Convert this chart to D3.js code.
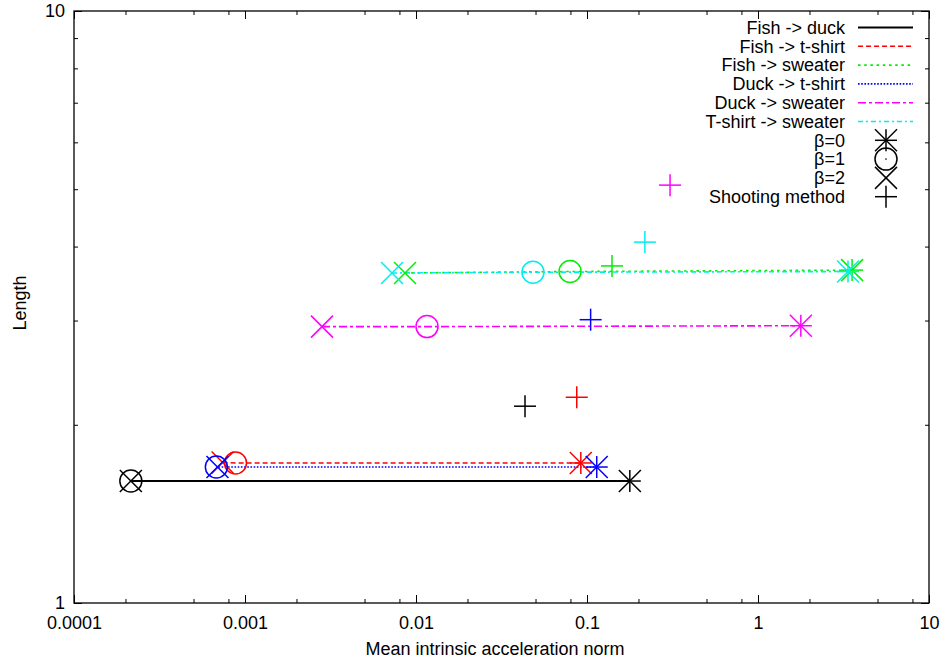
<!DOCTYPE html>
<html>
<head>
<meta charset="utf-8">
<script src="https://cdn.jsdelivr.net/npm/d3@7"></script>
<style>
  html, body { margin: 0; padding: 0; background: #fff; }
  svg text { font-family: "Liberation Sans", Arial, Helvetica, sans-serif; }
</style>
</head>
<body>
<svg id="chart" width="942" height="664"></svg>
<script>
// ---------- data ----------
const seriesNames = ["Fish -> duck", "Fish -> t-shirt", "Fish -> sweater",
                     "Duck -> t-shirt", "Duck -> sweater", "T-shirt -> sweater"];
// beta = 0 results (mean acceleration norm, length)
const beta0X = [0.178, 0.092, 3.55, 0.114, 1.78, 3.36];
const beta0Y = [1.607, 1.724, 3.65, 1.697, 2.94, 3.63];
// beta = 1
const beta1X = [0.000215, 0.00088, 0.0796, 0.00068, 0.0116, 0.0483];
const beta1Y = [1.607, 1.724, 3.63, 1.697, 2.93, 3.62];
// beta = 2
const beta2X = [0.000215, 0.00074, 0.00863, 0.00069, 0.00282, 0.00724];
const beta2Y = [1.607, 1.727, 3.61, 1.697, 2.93, 3.61];
// shooting method
const shootX = [0.0434, 0.0871, 0.140, 0.105, 0.306, 0.218];
const shootY = [2.15, 2.226, 3.71, 3.01, 5.08, 4.07];

const markerNames = ["\u03b2=0", "\u03b2=1", "\u03b2=2", "Shooting method"];
const xTickValues = [0.0001, 0.001, 0.01, 0.1, 1, 10];
const xTickLabels = ["0.0001", "0.001", "0.01", "0.1", "1", "10"];
const yTickValues = [1, 10];
const yTickLabels = ["1", "10"];
const xAxisTitle = "Mean intrinsic acceleration norm";
const yAxisTitle = "Length";

// ---------- styles ----------
const colors = ["#000000", "#ff0000", "#00ee00", "#0000ff", "#ff00ff", "#00eeee"];
const dashes = [null, "5,3", "2.5,3.7", "1.6,1.6", "8,3,3,3", "5,3,2,3"];
const widths = [2, 1.6, 1.6, 1.6, 1.6, 1.6];

const svg = d3.select("#chart");
const L = 74, R = 929, T = 11, B = 603;
const x = d3.scaleLog().domain([1e-4, 10]).range([L, R]);
const y = d3.scaleLog().domain([1, 10]).range([B, T]);

// minor ticks
const xMinor = [];
xTickValues.slice(0, -1).forEach(d => [2, 5, 8].forEach(m => xMinor.push(d * m)));
const yMinor = [2, 3, 4, 5, 6, 7, 8, 9];

function styleAxis(g) {
  g.select(".domain").remove();
  g.selectAll("line").attr("stroke", "#000").attr("stroke-width", 1);
  g.selectAll("text").attr("font-size", 18).attr("fill", "#000");
}

// major axes
svg.append("g").attr("transform", `translate(0,${B})`)
  .call(d3.axisBottom(x).tickValues(xTickValues).tickSize(-8).tickPadding(13)
        .tickFormat((d, i) => xTickLabels[i])).call(styleAxis);
svg.append("g").attr("transform", `translate(0,${T})`)
  .call(d3.axisTop(x).tickValues(xTickValues).tickSize(-8).tickFormat(""))
  .call(styleAxis);
svg.append("g").attr("transform", `translate(${L},0)`)
  .call(d3.axisLeft(y).tickValues(yTickValues).tickSize(-8).tickPadding(9)
        .tickFormat((d, i) => yTickLabels[i])).call(styleAxis);
svg.append("g").attr("transform", `translate(${R},0)`)
  .call(d3.axisRight(y).tickValues(yTickValues).tickSize(-8).tickFormat(""))
  .call(styleAxis);
// minor axes
svg.append("g").attr("transform", `translate(0,${B})`)
  .call(d3.axisBottom(x).tickValues(xMinor).tickSize(-4).tickFormat("")).call(styleAxis);
svg.append("g").attr("transform", `translate(0,${T})`)
  .call(d3.axisTop(x).tickValues(xMinor).tickSize(-4).tickFormat("")).call(styleAxis);
svg.append("g").attr("transform", `translate(${L},0)`)
  .call(d3.axisLeft(y).tickValues(yMinor).tickSize(-4).tickFormat("")).call(styleAxis);
svg.append("g").attr("transform", `translate(${R},0)`)
  .call(d3.axisRight(y).tickValues(yMinor).tickSize(-4).tickFormat("")).call(styleAxis);

// frame
svg.append("rect").attr("x", L).attr("y", T).attr("width", R - L).attr("height", B - T)
  .attr("fill", "none").attr("stroke", "#000").attr("stroke-width", 1.3);

// titles
svg.append("text").attr("x", 495).attr("y", 655).attr("text-anchor", "middle")
  .attr("font-size", 18).text(xAxisTitle);
svg.append("text").attr("transform", "translate(26,303) rotate(-90)")
  .attr("text-anchor", "middle").attr("font-size", 18).text(yAxisTitle);

// ---------- marker drawing ----------
const S = 11;
function drawMarker(g, type, cx, cy, color) {
  const m = g.append("g").attr("stroke", color).attr("stroke-width", 1.5).attr("fill", "none");
  const line = (x1, y1, x2, y2) => m.append("line")
    .attr("x1", cx + x1).attr("y1", cy + y1).attr("x2", cx + x2).attr("y2", cy + y2);
  if (type === 0) { line(-S, 0, S, 0); line(0, -S, 0, S); line(-S, -S, S, S); line(-S, S, S, -S); }
  else if (type === 1) { m.append("circle").attr("cx", cx).attr("cy", cy).attr("r", S); }
  else if (type === 2) { line(-S, -S, S, S); line(-S, S, S, -S); }
  else { line(-S, 0, S, 0); line(0, -S, 0, S); }
  return m;
}

const plot = svg.append("g");
const lineGen = d3.line().x(d => x(d[0])).y(d => y(d[1]));

seriesNames.forEach((name, i) => {
  const pts = [[beta2X[i], beta2Y[i]], [beta1X[i], beta1Y[i]], [beta0X[i], beta0Y[i]]];
  plot.append("path").attr("d", lineGen(pts)).attr("fill", "none")
    .attr("stroke", colors[i]).attr("stroke-width", widths[i])
    .attr("stroke-dasharray", dashes[i]);
});
seriesNames.forEach((name, i) => {
  drawMarker(plot, 0, x(beta0X[i]), y(beta0Y[i]), colors[i]);
  drawMarker(plot, 1, x(beta1X[i]), y(beta1Y[i]), colors[i]);
  drawMarker(plot, 2, x(beta2X[i]), y(beta2Y[i]), colors[i]);
  drawMarker(plot, 3, x(shootX[i]), y(shootY[i]), colors[i]);
});

// ---------- legend ----------
const leg = svg.append("g");
const rowY = k => 27.5 + k * 18.8;
const textR = 845, s1 = 858, s2 = 913, mx = 886;
seriesNames.forEach((name, i) => {
  leg.append("text").attr("x", textR).attr("y", rowY(i)).attr("dy", "0.35em")
    .attr("text-anchor", "end").attr("font-size", 18).text(name);
  leg.append("line").attr("x1", s1).attr("x2", s2).attr("y1", rowY(i)).attr("y2", rowY(i))
    .attr("stroke", colors[i]).attr("stroke-width", widths[i])
    .attr("stroke-dasharray", dashes[i]);
});
markerNames.forEach((name, k) => {
  const r = 6 + k;
  leg.append("text").attr("x", textR).attr("y", rowY(r)).attr("dy", "0.35em")
    .attr("text-anchor", "end").attr("font-size", 18).text(name);
  drawMarker(leg, k, mx, rowY(r), "#000");
  if (k === 1) leg.append("circle").attr("cx", mx).attr("cy", rowY(r)).attr("r", 0.8).attr("fill", "#000");
});
</script>
</body>
</html>
